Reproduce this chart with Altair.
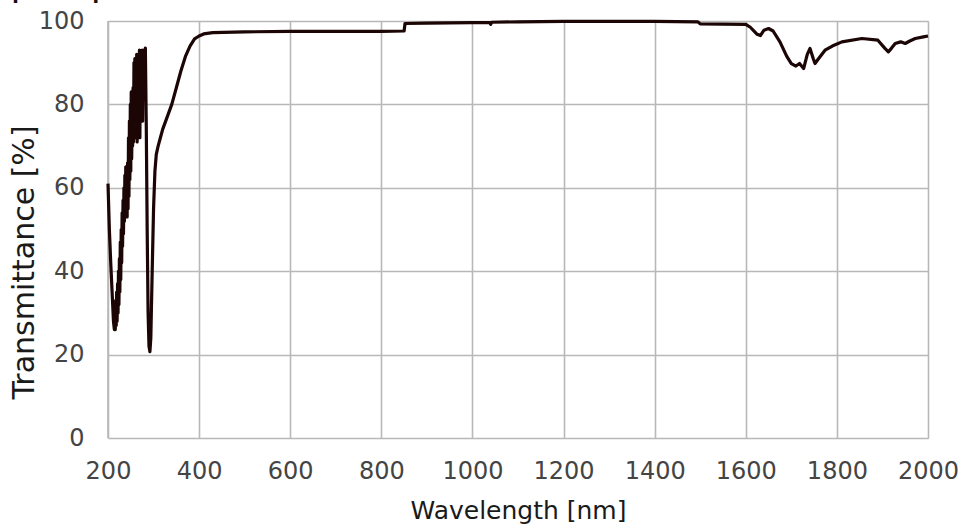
import altair as alt
import pandas as pd

# Transmittance spectrum (wavelength in nm, transmittance in %)
wavelength = [
    200, 203, 206, 209, 212, 214, 215, 216, 217, 218, 219, 220, 221, 222, 223, 224,
    225, 226, 227, 228, 229, 230, 231, 232, 233, 234, 235, 236, 237, 238, 239, 240,
    241, 242, 243, 244, 245, 246, 247, 248, 249, 250, 251, 252, 253, 254, 255, 256,
    257, 258, 259, 260, 261, 262, 263, 264, 265, 266, 267, 268, 269, 270, 271, 272,
    273, 274, 275, 276, 277, 278, 279, 280, 281, 282,
    284, 286, 288, 290, 292, 294, 297, 300, 303, 306, 310, 315, 320,
    330, 340, 350, 360, 370, 380, 390, 400, 410, 430, 500, 600, 700, 800, 850, 852,
    900, 1000, 1038, 1040, 1042, 1100, 1200, 1300, 1400, 1495, 1500, 1600, 1610, 1625,
    1632, 1640, 1650, 1660, 1675, 1690, 1700, 1710, 1718, 1727, 1735, 1741, 1748, 1752,
    1760, 1774, 1790, 1811, 1855, 1890, 1905, 1913, 1920, 1928, 1940, 1950, 1960, 1972,
    1990, 2000,
]
transmittance = [
    61, 50, 42, 35, 28, 26, 31, 26, 33, 27, 35, 28, 37, 30, 40, 32,
    43, 35, 47, 38, 50, 42, 54, 46, 57, 49, 60, 52, 63, 53, 65, 56,
    62, 53, 66, 55, 72, 58, 76, 62, 80, 64, 83, 67, 78, 70, 84, 71,
    90, 72, 91, 73, 86, 74, 92, 71, 89, 75, 92, 73, 93, 72, 91, 78,
    92, 80, 93, 76, 92, 82, 93, 85, 92, 93.5,
    75, 50, 30, 22, 20.7, 24, 40, 55, 64, 68, 70, 72, 74,
    77, 80, 84, 88, 91.5, 94, 95.7, 96.4, 96.9, 97.2, 97.4, 97.5, 97.5, 97.5, 97.6, 99.4,
    99.5, 99.6, 99.6, 99.2, 99.7, 99.8, 99.9, 99.9, 99.9, 99.8, 99.3, 99.2, 98.5, 96.8,
    96.5, 97.8, 98.2, 97.6, 95, 91.5, 89.8, 89.2, 89.8, 88.6, 92, 93.4, 91, 89.8,
    91, 93, 94, 95, 95.8, 95.4, 93.5, 92.6, 93.5, 94.6, 95, 94.6, 95.2, 95.8,
    96.2, 96.4,
]

x_ticks = [200, 400, 600, 800, 1000, 1200, 1400, 1600, 1800, 2000]
y_ticks = [0, 20, 40, 60, 80, 100]
heading = ["Optical Spectrum"]

df = pd.DataFrame({"wl": wavelength, "t": transmittance})

FONT = "DejaVu Sans"
GRID = "#b8b8b8"

line = alt.Chart(df).mark_line(color="#1c0505", strokeWidth=3.2, strokeJoin="round").encode(
    x=alt.X(
        "wl:Q",
        scale=alt.Scale(domain=[200, 2000], nice=False, zero=False),
        axis=alt.Axis(
            values=x_ticks,
            format="d",
            title="Wavelength [nm]",
            titleFont=FONT,
            titleFontSize=25,
            titleFontWeight="normal",
            titleColor="#1a1a1a",
            titleY=80,
            titleBaseline="alphabetic",
            labelFont=FONT,
            labelFontSize=24,
            labelColor="#444444",
            labelPadding=21,
            labelBaseline="top",
            labelFlush=False,
            labelOverlap=False,
            ticks=False,
            domain=False,
            grid=True,
            gridColor=GRID,
            gridWidth=1.6,
        ),
    ),
    y=alt.Y(
        "t:Q",
        scale=alt.Scale(domain=[0, 100], nice=False),
        axis=alt.Axis(
            values=y_ticks,
            title="Transmittance [%]",
            titleFont=FONT,
            titleFontSize=30,
            titleFontWeight="normal",
            titleColor="#1a1a1a",
            titleAngle=270,
            titleX=-75,
            titleY=241,
            titleAlign="center",
            titleBaseline="alphabetic",
            labelFont=FONT,
            labelFontSize=24,
            labelColor="#444444",
            labelPadding=24,
            labelFlush=False,
            ticks=False,
            domain=False,
            grid=True,
            gridColor=GRID,
            gridWidth=1.6,
        ),
    ),
)

# left edge line of the plot frame, at the first wavelength
edge = alt.Chart(pd.DataFrame({"wl": [x_ticks[0]]})).mark_rule(color=GRID, strokeWidth=1.6).encode(
    x="wl:Q"
)

head = alt.Chart(pd.DataFrame({"h": heading})).mark_text(
    font=FONT, fontSize=19, fontWeight="bold", align="right", baseline="alphabetic", color="#111111"
).encode(
    text="h:N",
    x=alt.value(74),
    y=alt.value(-22),
)

chart = alt.layer(edge, line, head).properties(
    width=820,
    height=417,
    autosize=alt.AutoSizeParams(type="none"),
    padding={"left": 108, "top": 21, "right": 33, "bottom": 88},
).configure_view(stroke=None).configure(background="white")

chart.save("out.html", embed_options={"renderer": "svg", "actions": False})
